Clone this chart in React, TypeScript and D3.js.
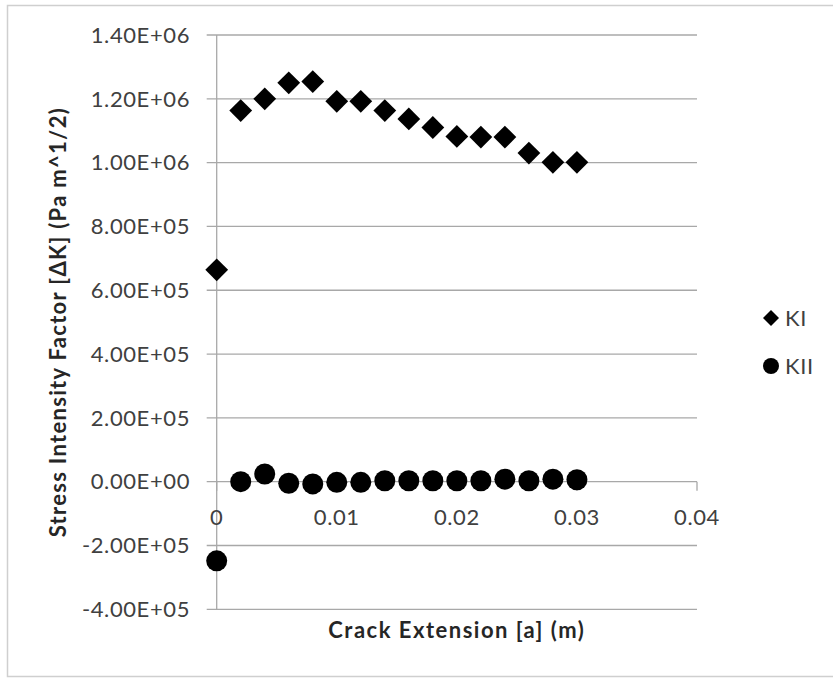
import React, { useEffect, useRef } from 'react';
import * as d3 from 'd3';

const crackExt = [0, 0.002, 0.004, 0.006, 0.008, 0.01, 0.012, 0.014, 0.016, 0.018, 0.02, 0.022, 0.024, 0.026, 0.028, 0.03];
const kI = [6.64e5, 1.163e6, 1.2e6, 1.25e6, 1.254e6, 1.192e6, 1.192e6, 1.163e6, 1.137e6, 1.11e6, 1.082e6, 1.08e6, 1.08e6, 1.03e6, 1.001e6, 1.001e6];
const kII = [-2.48e5, 0, 2.4e4, -5e3, -7e3, -2e3, -2e3, 3e3, 3e3, 3e3, 3e3, 3e3, 8e3, 3e3, 8e3, 6e3];
const yTicks = [-4e5, -2e5, 0, 2e5, 4e5, 6e5, 8e5, 1e6, 1.2e6, 1.4e6];
const xTicks = [0, 0.01, 0.02, 0.03, 0.04];
const seriesNames = ['KI', 'KII'];

const FONT = 'Lato, "Liberation Sans", sans-serif';
const GRID = '#a8a8a8';

const fmtSci = (v: number) => {
  if (v === 0) return '0.00E+00';
  const s = v.toExponential(2).toUpperCase(); // e.g. 1.40E+6
  return s.replace(/E([+-])(\d)$/, 'E$10$2');
};

const App: React.FC = () => {
  const ref = useRef<SVGSVGElement>(null);

  useEffect(() => {
    if (!ref.current) return;
    const svg = d3.select(ref.current);
    svg.selectAll('*').remove();

    const x = d3.scaleLinear().domain([0, 0.04]).range([216.7, 697]);
    const y = d3.scaleLinear().domain([-4e5, 1.4e6]).range([609.3, 35]);

    // outer frame
    svg.append('rect')
      .attr('x', 7.5).attr('y', 5.5)
      .attr('width', 830).attr('height', 671)
      .attr('fill', 'white')
      .attr('stroke', '#cfcfcf')
      .attr('stroke-width', 1.5);

    // horizontal gridlines (with outward tick stubs)
    svg.selectAll('.grid')
      .data(yTicks)
      .enter()
      .append('line')
      .attr('x1', x(0) - 10)
      .attr('x2', x(0.04))
      .attr('y1', d => y(d))
      .attr('y2', d => y(d))
      .attr('stroke', GRID)
      .attr('stroke-width', 1.3);

    // y axis line
    svg.append('line')
      .attr('x1', x(0)).attr('x2', x(0))
      .attr('y1', y(1.4e6)).attr('y2', y(-4e5))
      .attr('stroke', GRID).attr('stroke-width', 1.3);

    // x axis ticks (down from zero line)
    svg.selectAll('.xtick')
      .data(xTicks)
      .enter()
      .append('line')
      .attr('x1', d => x(d)).attr('x2', d => x(d))
      .attr('y1', y(0)).attr('y2', y(0) + 9)
      .attr('stroke', GRID).attr('stroke-width', 1.3);

    // y tick labels
    svg.selectAll('.ylab')
      .data(yTicks)
      .enter()
      .append('text')
      .attr('x', 190)
      .attr('y', d => y(d))
      .attr('dy', '0.35em')
      .attr('text-anchor', 'end')
      .attr('font-family', FONT)
      .attr('font-size', 22)
      .attr('letter-spacing', 0.6)
      .attr('fill', '#404040')
      .text(d => fmtSci(d));

    // x tick labels
    svg.selectAll('.xlab')
      .data(xTicks)
      .enter()
      .append('text')
      .attr('x', d => x(d))
      .attr('y', y(0) + 36)
      .attr('dy', '0.35em')
      .attr('text-anchor', 'middle')
      .attr('font-family', FONT)
      .attr('font-size', 22)
      .attr('letter-spacing', 0.6)
      .attr('fill', '#404040')
      .text(d => String(d));

    // axis titles
    svg.append('text')
      .attr('x', (x(0) + x(0.04)) / 2)
      .attr('y', 630)
      .attr('dy', '0.35em')
      .attr('text-anchor', 'middle')
      .attr('font-family', FONT)
      .attr('font-weight', 'bold')
      .attr('font-size', 22)
      .attr('letter-spacing', 1.5)
      .attr('fill', '#262626')
      .text('Crack Extension [a] (m)');

    svg.append('text')
      .attr('transform', `translate(58, ${(y(1.4e6) + y(-4e5)) / 2}) rotate(-90)`)
      .attr('dy', '0.35em')
      .attr('text-anchor', 'middle')
      .attr('font-family', FONT)
      .attr('font-weight', 'bold')
      .attr('font-size', 22)
      .attr('letter-spacing', 1.3)
      .attr('fill', '#262626')
      .text('Stress Intensity Factor [ΔK] (Pa m^1/2)');

    // KI diamonds
    const diamond = d3.symbol().type(d3.symbolSquare).size(260);
    svg.selectAll('.ki')
      .data(crackExt)
      .enter()
      .append('path')
      .attr('d', diamond as any)
      .attr('transform', (d, i) => `translate(${x(d)},${y(kI[i])}) rotate(45)`)
      .attr('fill', '#000');

    // KII circles
    svg.selectAll('.kii')
      .data(crackExt)
      .enter()
      .append('circle')
      .attr('cx', d => x(d))
      .attr('cy', (d, i) => y(kII[i]))
      .attr('r', 10.5)
      .attr('fill', '#000');

    // legend
    const legend = svg.append('g');
    const legY = [318, 366];
    legend.append('path')
      .attr('d', d3.symbol().type(d3.symbolSquare).size(128) as any)
      .attr('transform', `translate(771,${legY[0]}) rotate(45)`)
      .attr('fill', '#000');
    legend.append('circle')
      .attr('cx', 771).attr('cy', legY[1]).attr('r', 8)
      .attr('fill', '#000');
    legend.selectAll('.legtxt')
      .data(seriesNames)
      .enter()
      .append('text')
      .attr('x', 785)
      .attr('y', (d, i) => legY[i])
      .attr('dy', '0.35em')
      .attr('font-family', FONT)
      .attr('font-size', 22)
      .attr('letter-spacing', 0.6)
      .attr('fill', '#404040')
      .text(d => d);
  }, []);

  return (
    <svg
      ref={ref}
      width={833}
      height={679}
      style={{ position: 'absolute', left: 0, top: 0, background: 'white' }}
    />
  );
};

export default App;
